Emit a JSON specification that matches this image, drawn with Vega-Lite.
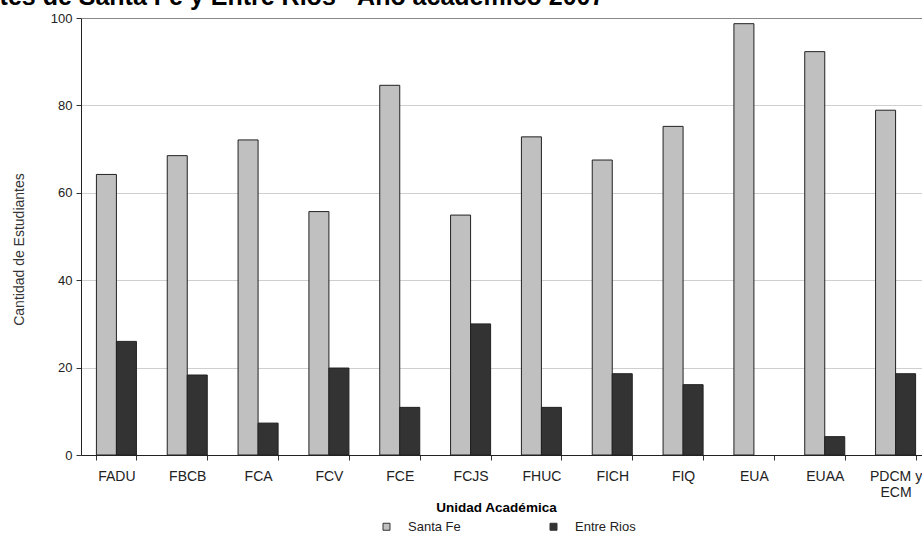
{
  "$schema": "https://vega.github.io/schema/vega-lite/v6.json",
  "width": 850,
  "height": 437,
  "autosize": {"type": "none"},
  "padding": {"left": 81, "top": 18, "right": -9, "bottom": 83},
  "background": "white",
  "title": {
    "text": "Estudiantes de Santa Fe y Entre Ríos - Año académico 2007",
    "anchor": "start",
    "frame": "group",
    "font": "Liberation Sans",
    "fontSize": 25,
    "fontWeight": "bold",
    "color": "#000000",
    "baseline": "alphabetic",
    "dx": -187,
    "dy": 18,
    "offset": 0
  },
  "data": {
    "values": [
      {"unidad": "FADU", "provincia": "Santa Fe", "cantidad": 64.2},
      {"unidad": "FADU", "provincia": "Entre Rios", "cantidad": 26.0},
      {"unidad": "FBCB", "provincia": "Santa Fe", "cantidad": 68.5},
      {"unidad": "FBCB", "provincia": "Entre Rios", "cantidad": 18.3},
      {"unidad": "FCA", "provincia": "Santa Fe", "cantidad": 72.1},
      {"unidad": "FCA", "provincia": "Entre Rios", "cantidad": 7.3},
      {"unidad": "FCV", "provincia": "Santa Fe", "cantidad": 55.7},
      {"unidad": "FCV", "provincia": "Entre Rios", "cantidad": 19.9},
      {"unidad": "FCE", "provincia": "Santa Fe", "cantidad": 84.6},
      {"unidad": "FCE", "provincia": "Entre Rios", "cantidad": 10.9},
      {"unidad": "FCJS", "provincia": "Santa Fe", "cantidad": 54.9},
      {"unidad": "FCJS", "provincia": "Entre Rios", "cantidad": 30.0},
      {"unidad": "FHUC", "provincia": "Santa Fe", "cantidad": 72.8},
      {"unidad": "FHUC", "provincia": "Entre Rios", "cantidad": 10.9},
      {"unidad": "FICH", "provincia": "Santa Fe", "cantidad": 67.5},
      {"unidad": "FICH", "provincia": "Entre Rios", "cantidad": 18.6},
      {"unidad": "FIQ", "provincia": "Santa Fe", "cantidad": 75.2},
      {"unidad": "FIQ", "provincia": "Entre Rios", "cantidad": 16.1},
      {"unidad": "EUA", "provincia": "Santa Fe", "cantidad": 98.7},
      {"unidad": "EUAA", "provincia": "Santa Fe", "cantidad": 92.3},
      {"unidad": "EUAA", "provincia": "Entre Rios", "cantidad": 4.2},
      {"unidad": "PDCM y ECM", "provincia": "Santa Fe", "cantidad": 78.9},
      {"unidad": "PDCM y ECM", "provincia": "Entre Rios", "cantidad": 18.6}
    ]
  },
  "mark": {"type": "bar", "stroke": "#222222", "strokeWidth": 1},
  "encoding": {
    "x": {
      "field": "unidad",
      "type": "nominal",
      "sort": null,
      "scale": {"paddingInner": 0.435, "paddingOuter": 0.2175},
      "axis": {
        "title": "Unidad Académica",
        "titleFont": "Liberation Sans",
        "titleFontSize": 13.5,
        "titleFontWeight": "bold",
        "titleColor": "#000000",
        "titleX": 415,
        "titleY": 52,
        "titleAlign": "center",
        "titleBaseline": "middle",
        "labelAngle": 0,
        "labelFont": "Liberation Sans",
        "labelFontSize": 14,
        "labelColor": "#222222",
        "labelPadding": 9,
        "labelLineHeight": 16.5,
        "labelExpr": "datum.value == 'PDCM y ECM' ? ['PDCM y', 'ECM'] : datum.value",
        "tickBand": "extent",
        "tickSize": 5,
        "tickColor": "#333333",
        "domainColor": "#222222",
        "grid": false
      }
    },
    "xOffset": {"field": "provincia", "type": "nominal", "sort": ["Santa Fe", "Entre Rios"]},
    "y": {
      "field": "cantidad",
      "type": "quantitative",
      "scale": {"domain": [0, 100]},
      "axis": {
        "title": "Cantidad de Estudiantes",
        "titleFont": "Liberation Sans",
        "titleFontSize": 14,
        "titleFontWeight": "normal",
        "titleColor": "#333333",
        "titleX": -62,
        "titleY": 231,
        "titleAngle": -90,
        "titleAlign": "center",
        "titleBaseline": "middle",
        "values": [0, 20, 40, 60, 80, 100],
        "labelFont": "Liberation Sans",
        "labelFontSize": 13,
        "labelColor": "#222222",
        "labelPadding": 4,
        "tickSize": 5,
        "tickColor": "#333333",
        "domainColor": "#222222",
        "gridColor": {"condition": {"test": "datum.value == 100", "value": "#888888"}, "value": "#cfcfcf"}
      }
    },
    "color": {
      "field": "provincia",
      "type": "nominal",
      "sort": ["Santa Fe", "Entre Rios"],
      "scale": {"domain": ["Santa Fe", "Entre Rios"], "range": ["#c0c0c0", "#333333"]},
      "legend": {
        "title": null,
        "orient": "none",
        "legendX": 299,
        "legendY": 502,
        "direction": "horizontal",
        "columns": 2,
        "columnPadding": 86,
        "padding": 0,
        "symbolType": "square",
        "symbolSize": 49,
        "symbolStrokeColor": "#333333",
        "symbolStrokeWidth": 1,
        "labelFont": "Liberation Sans",
        "labelFontSize": 13,
        "labelColor": "#222222",
        "labelOffset": 15
      }
    }
  },
  "config": {"view": {"stroke": null}}
}
